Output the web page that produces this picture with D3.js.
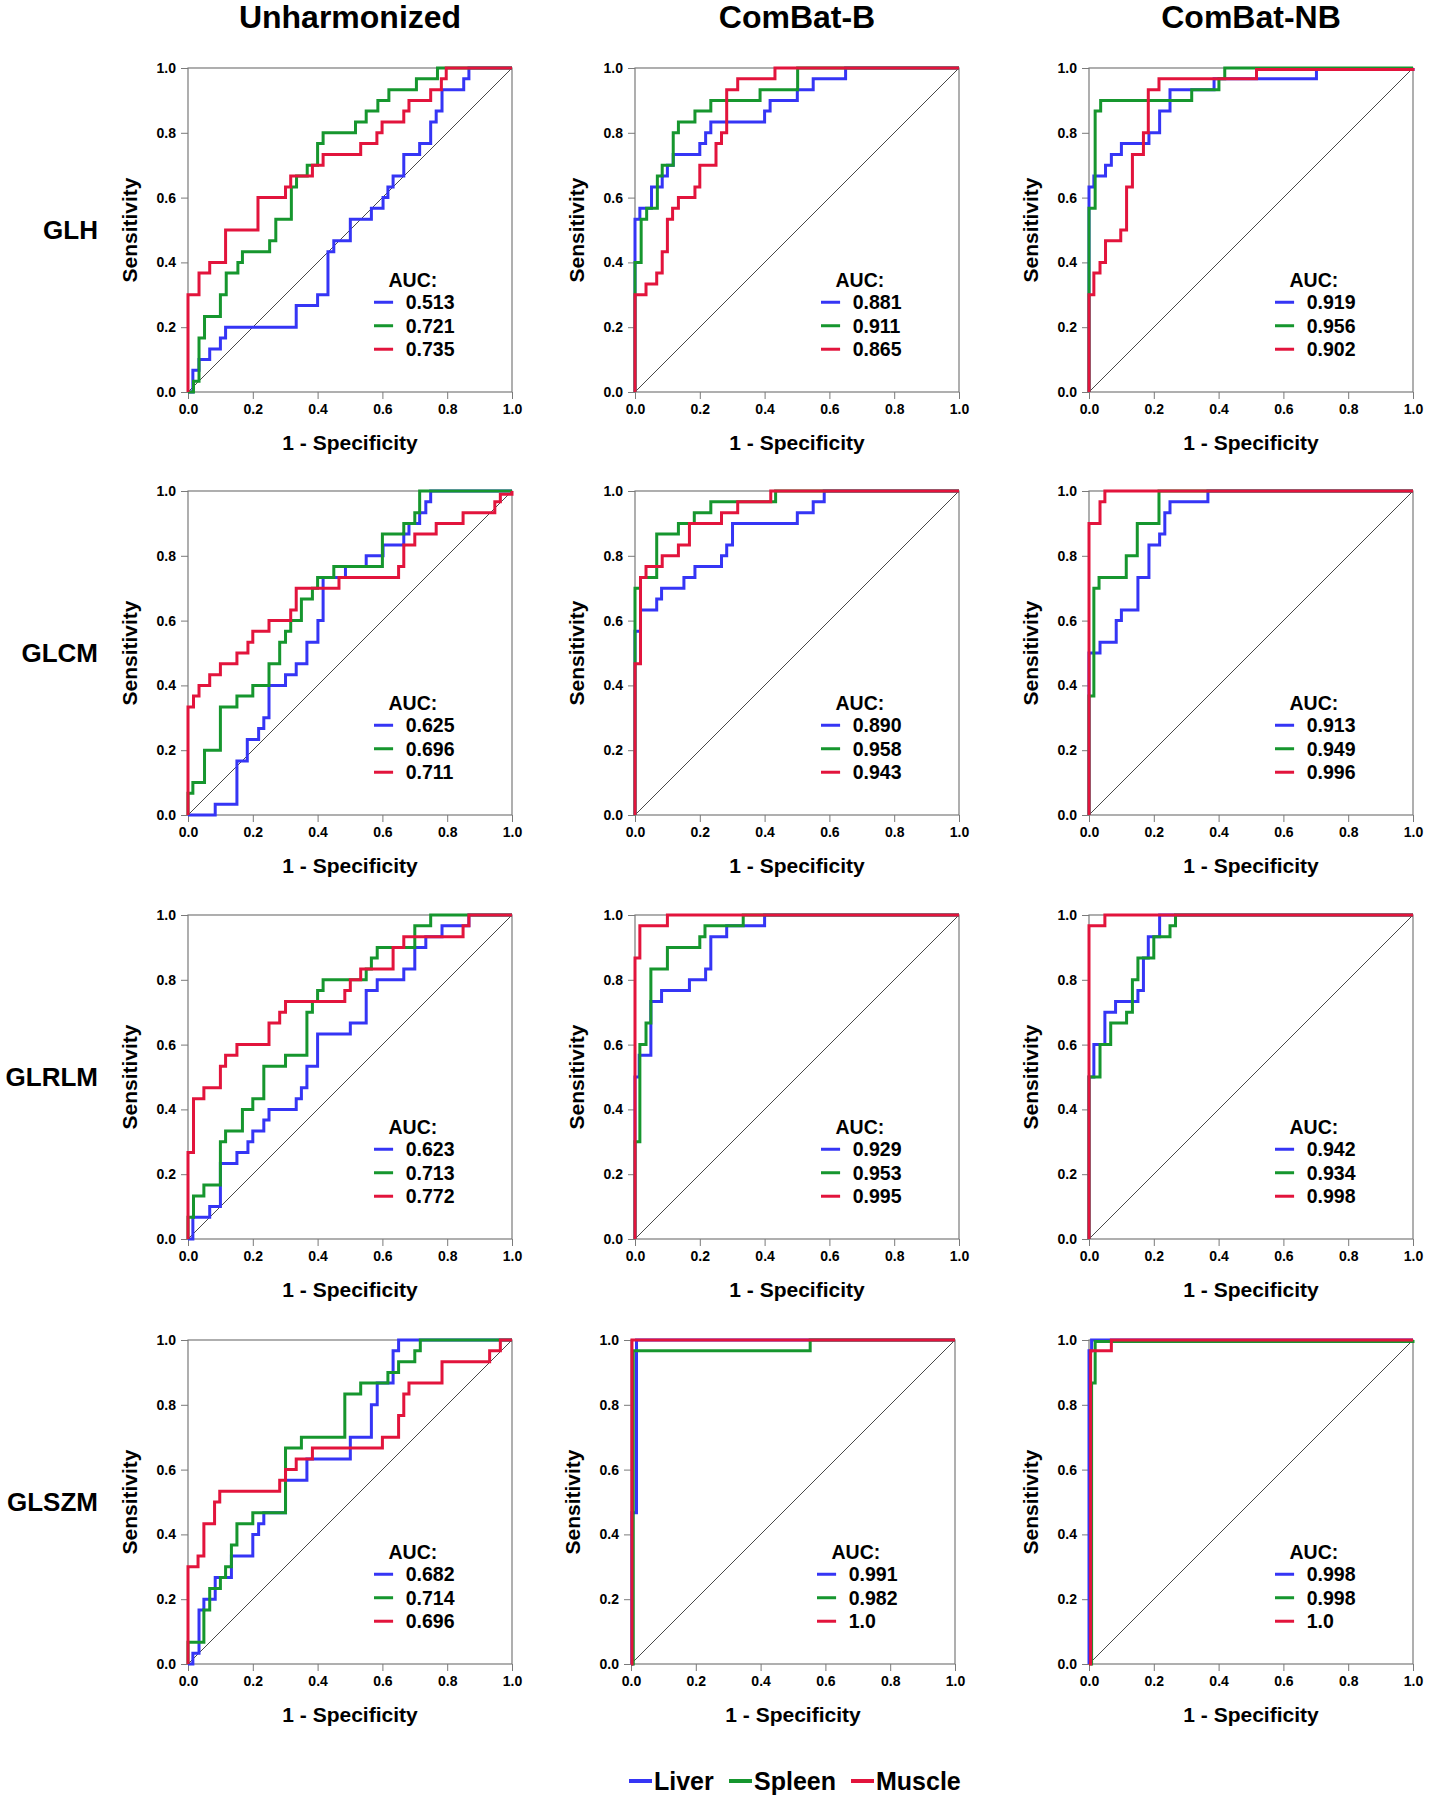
<!DOCTYPE html>
<html>
<head>
<meta charset="utf-8">
<script src="https://cdn.jsdelivr.net/npm/d3@7"></script>
<style>
  body { margin: 0; background: #fff; }
  text { font-family: "Liberation Sans", Arial, sans-serif; font-weight: bold; fill: #000; }
</style>
</head>
<body>
<div id="chart"></div>
<script>
// column / row names
const methods = ["Unharmonized", "ComBat-B", "ComBat-NB"];
const features = ["GLH", "GLCM", "GLRLM", "GLSZM"];
const organs = ["Liver", "Spleen", "Muscle"];
const organColors = ["#3535f5", "#16962e", "#e2143c"];
const tickValues = [0, 0.2, 0.4, 0.6, 0.8, 1.0];

// ROC corner points [1 - specificity, sensitivity] (step: horizontal then up)
// GLH
const glhUnhLiver = [[0.015,0.067],[0.034,0.1],[0.067,0.133],[0.1,0.167],[0.116,0.2],[0.334,0.267],[0.4,0.3],[0.432,0.433],[0.45,0.467],[0.501,0.533],[0.566,0.567],[0.602,0.6],[0.617,0.633],[0.633,0.667],[0.666,0.733],[0.715,0.767],[0.749,0.833],[0.766,0.867],[0.784,0.933],[0.851,0.967],[0.867,1],[1,1]];
const glhUnhSpleen = [[0.017,0.033],[0.034,0.167],[0.051,0.233],[0.1,0.3],[0.118,0.367],[0.154,0.4],[0.168,0.433],[0.252,0.467],[0.271,0.533],[0.319,0.633],[0.335,0.667],[0.368,0.7],[0.4,0.767],[0.417,0.8],[0.517,0.833],[0.55,0.867],[0.586,0.9],[0.62,0.933],[0.705,0.967],[0.77,1],[1,1]];
const glhUnhMuscle = [[0,0.3],[0.034,0.367],[0.067,0.4],[0.116,0.5],[0.216,0.6],[0.301,0.633],[0.317,0.667],[0.384,0.7],[0.417,0.733],[0.533,0.767],[0.583,0.8],[0.599,0.833],[0.666,0.867],[0.682,0.9],[0.749,0.933],[0.782,0.967],[0.797,1],[1,1]];
const glhBLiver = [[0,0.533],[0.015,0.567],[0.051,0.633],[0.084,0.667],[0.1,0.7],[0.118,0.733],[0.2,0.767],[0.218,0.8],[0.234,0.833],[0.4,0.867],[0.417,0.9],[0.501,0.933],[0.55,0.967],[0.65,1],[1,1]];
const glhBSpleen = [[0,0.4],[0.019,0.533],[0.036,0.567],[0.069,0.667],[0.084,0.7],[0.118,0.8],[0.134,0.833],[0.185,0.867],[0.234,0.9],[0.386,0.933],[0.502,1],[1,1]];
const glhBMuscle = [[0,0.3],[0.034,0.333],[0.067,0.367],[0.084,0.433],[0.1,0.533],[0.116,0.567],[0.134,0.6],[0.185,0.633],[0.2,0.7],[0.25,0.767],[0.267,0.8],[0.283,0.933],[0.317,0.967],[0.432,1],[1,1]];
const glhNbLiver = [[0,0.633],[0.015,0.667],[0.051,0.7],[0.069,0.733],[0.1,0.767],[0.185,0.8],[0.218,0.867],[0.25,0.933],[0.386,0.967],[0.702,0.995],[1,1]];
const glhNbSpleen = [[0,0.567],[0.019,0.867],[0.036,0.9],[0.317,0.933],[0.401,0.967],[0.419,1],[1,1]];
const glhNbMuscle = [[0,0.3],[0.015,0.367],[0.034,0.4],[0.051,0.467],[0.098,0.5],[0.116,0.633],[0.134,0.733],[0.168,0.8],[0.183,0.933],[0.216,0.967],[0.517,0.995],[1,1]];
// GLCM
const glcmUnhLiver = [[0.084,0.033],[0.151,0.167],[0.183,0.233],[0.218,0.267],[0.234,0.3],[0.25,0.4],[0.301,0.433],[0.334,0.467],[0.367,0.533],[0.401,0.6],[0.417,0.733],[0.486,0.767],[0.55,0.8],[0.602,0.833],[0.666,0.867],[0.682,0.9],[0.715,0.933],[0.734,0.967],[0.749,1],[1,1]];
const glcmUnhSpleen = [[0,0.067],[0.015,0.1],[0.051,0.2],[0.1,0.333],[0.151,0.367],[0.2,0.4],[0.25,0.467],[0.283,0.533],[0.301,0.567],[0.317,0.6],[0.35,0.667],[0.384,0.7],[0.4,0.733],[0.45,0.767],[0.6,0.867],[0.666,0.9],[0.7,0.933],[0.715,1],[1,1]];
const glcmUnhMuscle = [[0,0.333],[0.017,0.367],[0.034,0.4],[0.067,0.433],[0.1,0.467],[0.151,0.5],[0.185,0.533],[0.2,0.567],[0.25,0.6],[0.317,0.633],[0.334,0.7],[0.466,0.733],[0.65,0.767],[0.666,0.833],[0.7,0.867],[0.766,0.9],[0.849,0.933],[0.947,0.967],[0.964,0.99],[1,1]];
const glcmBLiver = [[0,0.567],[0.017,0.633],[0.067,0.667],[0.082,0.7],[0.151,0.733],[0.185,0.767],[0.267,0.8],[0.283,0.833],[0.301,0.9],[0.501,0.933],[0.55,0.967],[0.584,1],[1,1]];
const glcmBSpleen = [[0,0.7],[0.017,0.733],[0.067,0.867],[0.134,0.9],[0.183,0.933],[0.234,0.967],[0.434,1],[1,1]];
const glcmBMuscle = [[0,0.467],[0.017,0.733],[0.034,0.767],[0.084,0.8],[0.134,0.833],[0.168,0.9],[0.267,0.933],[0.317,0.967],[0.419,1],[1,1]];
const glcmNbLiver = [[0,0.5],[0.034,0.533],[0.084,0.6],[0.1,0.633],[0.151,0.733],[0.185,0.833],[0.218,0.867],[0.234,0.933],[0.25,0.967],[0.367,1],[1,1]];
const glcmNbSpleen = [[0,0.367],[0.015,0.7],[0.031,0.733],[0.115,0.8],[0.149,0.9],[0.216,1],[1,1]];
const glcmNbMuscle = [[0,0.9],[0.034,0.967],[0.049,1],[1,1]];
// GLRLM
const glrlmUnhLiver = [[0.015,0.067],[0.067,0.1],[0.1,0.233],[0.151,0.267],[0.185,0.3],[0.2,0.333],[0.234,0.367],[0.25,0.4],[0.334,0.433],[0.35,0.467],[0.367,0.533],[0.4,0.633],[0.501,0.667],[0.55,0.767],[0.584,0.8],[0.666,0.833],[0.7,0.9],[0.734,0.933],[0.784,0.967],[0.867,1],[1,1]];
const glrlmUnhSpleen = [[0,0.067],[0.017,0.133],[0.049,0.167],[0.1,0.3],[0.116,0.333],[0.168,0.4],[0.2,0.433],[0.234,0.533],[0.301,0.567],[0.367,0.7],[0.384,0.733],[0.4,0.767],[0.417,0.8],[0.55,0.833],[0.566,0.867],[0.584,0.9],[0.7,0.967],[0.749,1],[1,1]];
const glrlmUnhMuscle = [[0,0.267],[0.017,0.433],[0.049,0.467],[0.1,0.533],[0.116,0.567],[0.151,0.6],[0.25,0.667],[0.283,0.7],[0.301,0.733],[0.484,0.767],[0.501,0.8],[0.533,0.833],[0.633,0.9],[0.666,0.933],[0.849,0.967],[0.867,1],[1,1]];
const glrlmBLiver = [[0,0.5],[0.013,0.567],[0.049,0.733],[0.082,0.767],[0.168,0.8],[0.218,0.833],[0.234,0.933],[0.283,0.967],[0.4,1],[1,1]];
const glrlmBSpleen = [[0,0.3],[0.015,0.6],[0.034,0.667],[0.049,0.833],[0.1,0.9],[0.2,0.933],[0.216,0.967],[0.334,1],[1,1]];
const glrlmBMuscle = [[0,0.867],[0.015,0.967],[0.1,1],[1,1]];
const glrlmNbLiver = [[0,0.5],[0.015,0.6],[0.049,0.7],[0.082,0.733],[0.151,0.767],[0.168,0.867],[0.183,0.933],[0.218,1],[1,1]];
const glrlmNbSpleen = [[0,0.5],[0.034,0.6],[0.067,0.667],[0.116,0.7],[0.134,0.8],[0.151,0.867],[0.2,0.933],[0.25,0.967],[0.267,1],[1,1]];
const glrlmNbMuscle = [[0,0.967],[0.049,1],[1,1]];
// GLSZM
const glszmUnhLiver = [[0.015,0.033],[0.034,0.167],[0.049,0.2],[0.084,0.267],[0.134,0.333],[0.2,0.4],[0.218,0.433],[0.234,0.467],[0.301,0.567],[0.367,0.633],[0.501,0.7],[0.566,0.8],[0.584,0.867],[0.633,0.967],[0.65,1],[1,1]];
const glszmUnhSpleen = [[0,0.067],[0.049,0.167],[0.067,0.233],[0.1,0.267],[0.116,0.3],[0.134,0.367],[0.151,0.433],[0.2,0.467],[0.301,0.667],[0.35,0.7],[0.484,0.833],[0.533,0.867],[0.617,0.9],[0.65,0.933],[0.7,0.967],[0.717,1],[1,1]];
const glszmUnhMuscle = [[0,0.3],[0.031,0.333],[0.049,0.433],[0.082,0.5],[0.098,0.533],[0.283,0.567],[0.301,0.6],[0.334,0.633],[0.384,0.667],[0.6,0.7],[0.65,0.767],[0.666,0.833],[0.682,0.867],[0.784,0.933],[0.931,0.967],[0.964,1],[1,1]];
const glszmBLiver = [[0.003,0.467],[0.017,1],[1,1]];
const glszmBSpleen = [[0.007,0.967],[0.553,1],[1,1]];
const glszmBMuscle = [[0.003,1],[1,1]];
const glszmNbLiver = [[0,0.967],[0.008,1],[1,1]];
const glszmNbSpleen = [[0.008,0.867],[0.019,0.995],[1,1]];
const glszmNbMuscle = [[0.005,0.967],[0.069,1],[1,1]];

// AUC labels, rows = features, cols = methods
const aucGlh = [["0.513", "0.721", "0.735"], ["0.881", "0.911", "0.865"], ["0.919", "0.956", "0.902"]];
const aucGlcm = [["0.625", "0.696", "0.711"], ["0.890", "0.958", "0.943"], ["0.913", "0.949", "0.996"]];
const aucGlrlm = [["0.623", "0.713", "0.772"], ["0.929", "0.953", "0.995"], ["0.942", "0.934", "0.998"]];
const aucGlszm = [["0.682", "0.714", "0.696"], ["0.991", "0.982", "1.0"], ["0.998", "0.998", "1.0"]];

const curves = [
    [[glhUnhLiver, glhUnhSpleen, glhUnhMuscle], [glhBLiver, glhBSpleen, glhBMuscle], [glhNbLiver, glhNbSpleen, glhNbMuscle]],
    [[glcmUnhLiver, glcmUnhSpleen, glcmUnhMuscle], [glcmBLiver, glcmBSpleen, glcmBMuscle], [glcmNbLiver, glcmNbSpleen, glcmNbMuscle]],
    [[glrlmUnhLiver, glrlmUnhSpleen, glrlmUnhMuscle], [glrlmBLiver, glrlmBSpleen, glrlmBMuscle], [glrlmNbLiver, glrlmNbSpleen, glrlmNbMuscle]],
    [[glszmUnhLiver, glszmUnhSpleen, glszmUnhMuscle], [glszmBLiver, glszmBSpleen, glszmBMuscle], [glszmNbLiver, glszmNbSpleen, glszmNbMuscle]]
];
const aucs = [aucGlh, aucGlcm, aucGlrlm, aucGlszm];

const width = 1429;
const height = 1800;
const size = 324;
const colLeft = [188, 635, 1089];
const rowTop = [68, 491, 915, 1340];
const frameColor = "#7a7a7a";

const svg = d3.select("#chart")
    .append("svg")
    .attr("width", width)
    .attr("height", height)
    .style("background", "#fff");

const xScale = d3.scaleLinear().domain([0, 1]).range([0, size]);
const yScale = d3.scaleLinear().domain([0, 1]).range([size, 0]);

const lineGenerator = d3.line()
    .x(d => xScale(d[0]))
    .y(d => yScale(d[1]))
    .curve(d3.curveStepAfter);

// column headers
methods.forEach((m, c) => {
    svg.append("text")
        .attr("x", colLeft[c] + size / 2)
        .attr("y", 28)
        .attr("text-anchor", "middle")
        .attr("font-size", 32)
        .text(m);
});

features.forEach((f, r) => {
    svg.append("text")
        .attr("x", 98)
        .attr("y", rowTop[r] + size / 2)
        .attr("dy", "0.35em")
        .attr("text-anchor", "end")
        .attr("font-size", 26)
        .text(f);

    methods.forEach((m, c) => {
        // bottom-middle panel sits a little to the left in the original
        const left = colLeft[c] - (r === 3 && c === 1 ? 4 : 0);
        const g = svg.append("g")
            .attr("transform", `translate(${left}, ${rowTop[r]})`);

        const xAxis = d3.axisBottom(xScale)
            .tickValues(tickValues)
            .tickFormat(d3.format(".1f"))
            .tickSize(7)
            .tickPadding(5);
        const yAxis = d3.axisLeft(yScale)
            .tickValues(tickValues)
            .tickFormat(d3.format(".1f"))
            .tickSize(7)
            .tickPadding(5);

        const xAxisG = g.append("g")
            .attr("transform", `translate(0, ${size})`)
            .call(xAxis);
        const yAxisG = g.append("g").call(yAxis);
        [xAxisG, yAxisG].forEach(a => {
            a.select(".domain").remove();
            a.selectAll("line").attr("stroke", frameColor);
            a.selectAll("text")
                .attr("font-size", 14)
                .attr("font-family", "Liberation Sans, Arial, sans-serif")
                .attr("font-weight", "bold")
                .attr("fill", "#000");
        });

        g.append("rect")
            .attr("width", size)
            .attr("height", size)
            .attr("fill", "none")
            .attr("stroke", frameColor)
            .attr("stroke-width", 1.2);

        g.append("line")
            .attr("x1", xScale(0)).attr("y1", yScale(0))
            .attr("x2", xScale(1)).attr("y2", yScale(1))
            .attr("stroke", "#333")
            .attr("stroke-width", 0.9);

        curves[r][c].forEach((pts, k) => {
            g.append("path")
                .attr("fill", "none")
                .attr("stroke", organColors[k])
                .attr("stroke-width", 3)
                .attr("d", lineGenerator([[0, 0]].concat(pts)));
        });

        // AUC legend
        g.append("text")
            .attr("x", size * 0.694)
            .attr("y", size * 0.654)
            .attr("dy", "0.35em")
            .attr("text-anchor", "middle")
            .attr("font-size", 19.5)
            .text("AUC:");
        aucs[r][c].forEach((v, k) => {
            const ly = size * (0.723 + k * 0.0725);
            g.append("line")
                .attr("x1", size * 0.574).attr("x2", size * 0.633)
                .attr("y1", ly).attr("y2", ly)
                .attr("stroke", organColors[k])
                .attr("stroke-width", 3);
            g.append("text")
                .attr("x", size * 0.672)
                .attr("y", ly)
                .attr("dy", "0.35em")
                .attr("font-size", 19.5)
                .text(v);
        });

        g.append("text")
            .attr("x", size / 2)
            .attr("y", size + 51)
            .attr("dy", "0.35em")
            .attr("text-anchor", "middle")
            .attr("font-size", 21)
            .text("1 - Specificity");

        g.append("text")
            .attr("transform", `translate(-58, ${size / 2}) rotate(-90)`)
            .attr("dy", "0.35em")
            .attr("text-anchor", "middle")
            .attr("font-size", 21)
            .text("Sensitivity");
    });
});

// bottom legend
const legendX = [629, 729, 851];
organs.forEach((o, k) => {
    svg.append("line")
        .attr("x1", legendX[k]).attr("x2", legendX[k] + 23)
        .attr("y1", 1781).attr("y2", 1781)
        .attr("stroke", organColors[k])
        .attr("stroke-width", 4);
    svg.append("text")
        .attr("x", legendX[k] + 25)
        .attr("y", 1781)
        .attr("dy", "0.35em")
        .attr("font-size", 25)
        .text(o);
});
</script>
</body>
</html>
